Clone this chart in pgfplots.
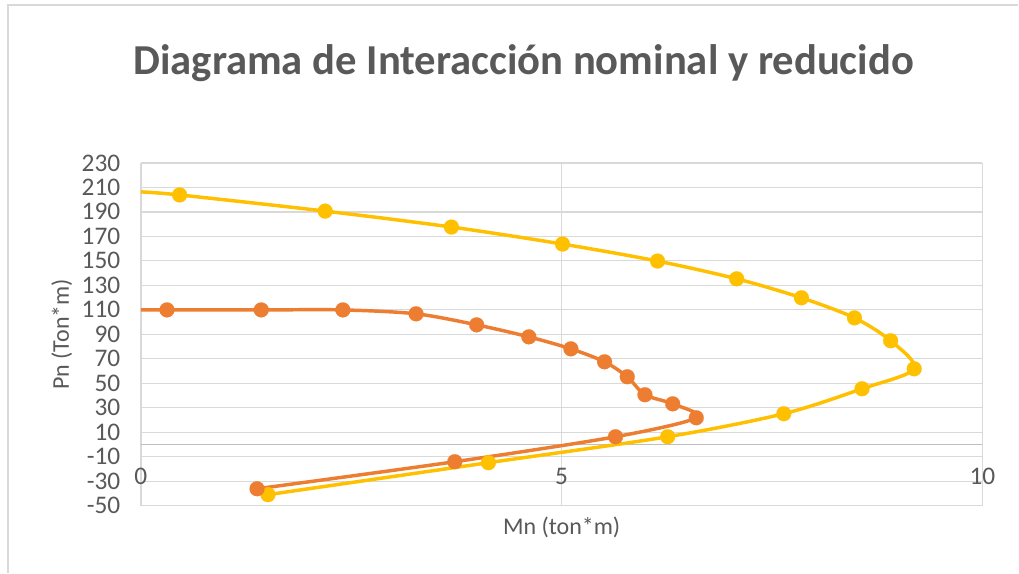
\documentclass[border=0pt]{standalone}
\usepackage{pgfplots}
\pgfplotsset{compat=1.18}
\usepackage{fontspec}
\setmainfont{Carlito}
\definecolor{txt}{HTML}{595959}
\definecolor{gridc}{HTML}{D9D9D9}
\definecolor{axc}{HTML}{BFBFBF}
\definecolor{yel}{HTML}{FFC000}
\definecolor{ora}{HTML}{ED7D31}
\begin{document}
\begin{tikzpicture}
\path[fill=white] (0pt,0pt) rectangle (764.25pt,429.75pt);
\draw[gridc, line width=1pt] (6pt,0pt) -- (6pt,426pt) -- (764.25pt,426pt);
\node[font=\fontsize{32}{38}\selectfont\bfseries, text=txt] at (393pt,382pt) {Diagrama de Interacción nominal y reducido};
\begin{axis}[
  at={(105.75pt,50.25pt)}, anchor=south west,
  scale only axis, width=631.5pt, height=257.25pt,
  xmin=0, xmax=10, ymin=-50, ymax=230,
  xtick={0,5,10}, ytick={-50,-30,...,230},
  grid=major, grid style={gridc, line width=1pt},
  axis line style={draw=none},
  major tick length=0pt,
  tick label style={font=\fontsize{19}{21}\selectfont, text=txt},
  /pgf/number format/assume math mode=true,
  yticklabel style={xshift=-12pt},
  xticklabel style={anchor=base, yshift=16pt},
  extra y ticks={0}, extra y tick labels={},
  extra y tick style={grid style={axc, line width=1.2pt}},
  xlabel={Mn (ton*m)}, ylabel={Pn (Ton*m)},
  label style={font=\fontsize{18}{21}\selectfont, text=txt},
  xlabel style={at={(axis description cs:0.5,-0.064)}, anchor=center},
  ylabel style={at={(axis description cs:-0.094,0.5)}, anchor=center},
  clip=false,
]
\addplot[yel, line width=2.6pt, smooth, mark=*, mark size=5.6pt, mark options={fill=yel, draw=yel, line width=0.1pt}, mark indices={2,...,16}] coordinates {
(0,206.3)(0.46,203.8)(2.19,190.6)(3.69,177.6)(5.01,163.7)(6.14,149.8)(7.08,135.3)(7.85,119.8)(8.48,103.4)(8.91,84.7)(9.19,61.8)(8.57,45.5)(7.64,25.1)(6.26,6.3)(4.13,-14.9)(1.51,-41.0)};
\addplot[ora, line width=2.6pt, smooth, mark=*, mark size=5.6pt, mark options={fill=ora, draw=ora, line width=0.1pt}, mark indices={2,...,16}] coordinates {
(0,109.9)(0.31,109.9)(1.43,109.9)(2.40,109.9)(3.27,106.7)(3.99,97.7)(4.61,87.9)(5.11,78.1)(5.51,67.5)(5.78,55.3)(5.99,40.6)(6.32,33.2)(6.60,21.8)(5.64,6.3)(3.73,-14.1)(1.38,-36.2)};
\end{axis}
\end{tikzpicture}
\end{document}
